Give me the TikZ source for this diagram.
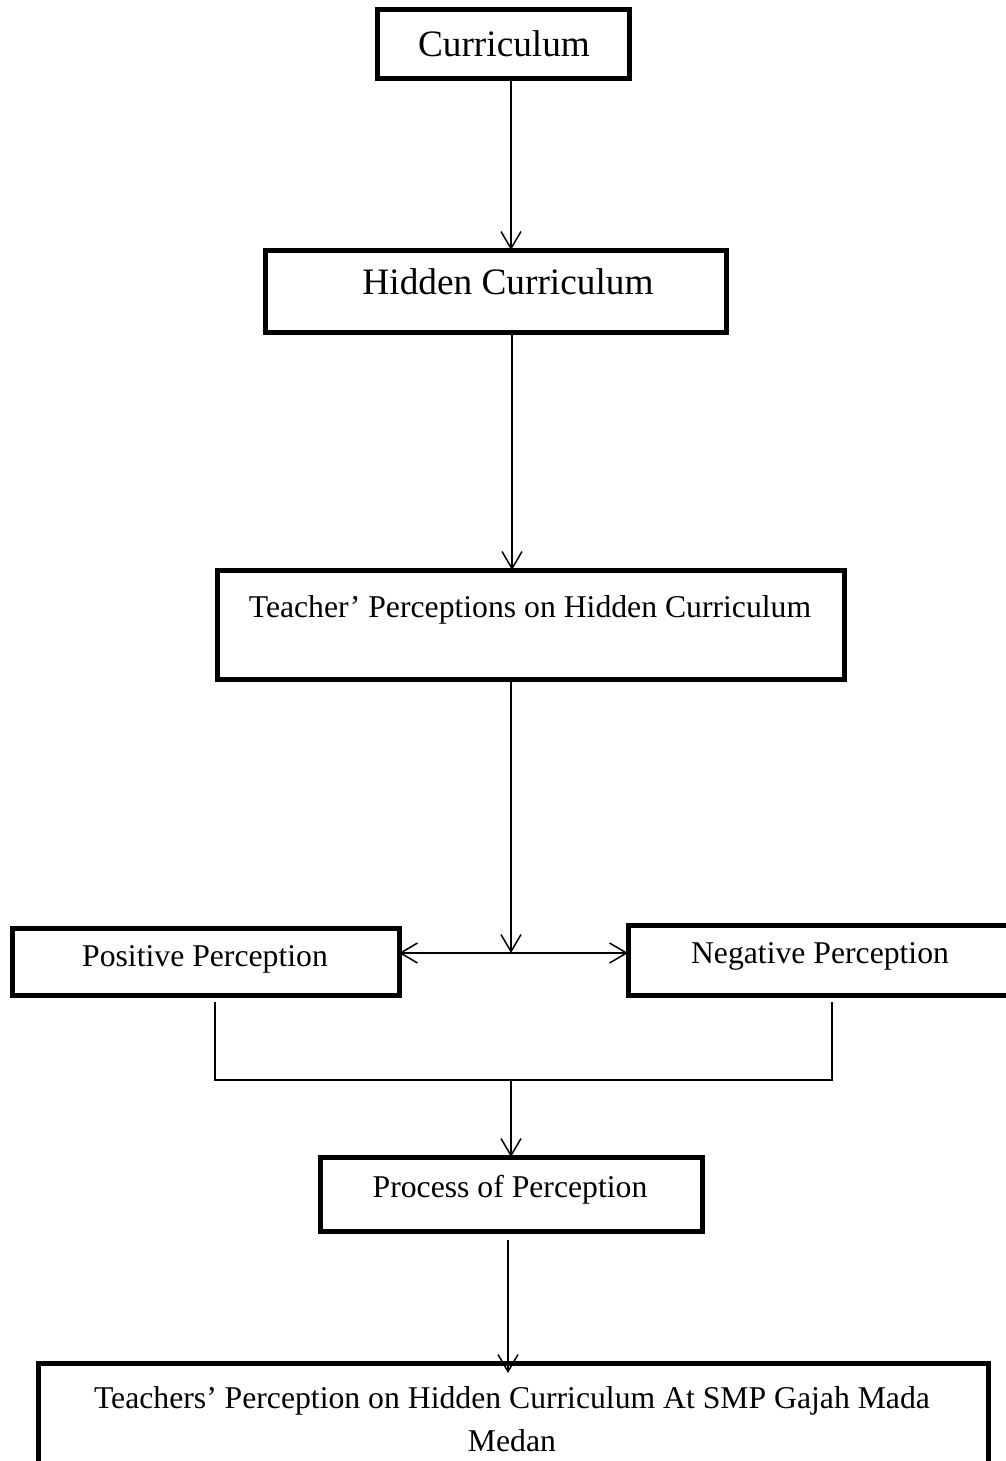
\documentclass[tikz,border=0pt]{standalone}
\usepackage{fontspec}
\setmainfont{Liberation Serif}
\usetikzlibrary{arrows.meta}
\begin{document}
\begin{tikzpicture}[x=1pt,y=-1pt,
  box/.style={draw, line width=5pt, inner sep=0pt, outer sep=0pt, anchor=north west},
  bigtxt/.style={inner sep=0pt, font=\fontsize{37.3}{44}\selectfont},
  smalltxt/.style={inner sep=0pt, font=\fontsize{31.7}{43}\selectfont, align=center},
  arr/.style={line width=1.5pt, -{Straight Barb[length=17pt,width=20pt]}},
  conn/.style={line width=1.5pt}
]
\useasboundingbox (0,0) rectangle (1006,1461);
\clip (0,0) rectangle (1006,1461);
% boxes
\node[box, minimum width=252pt, minimum height=69pt] (cur) at (377,10) {};
\node[box, minimum width=461pt, minimum height=82pt] (hid) at (265,250) {};
\node[box, minimum width=627pt, minimum height=109pt] (tea) at (217,570) {};
\node[box, minimum width=387pt, minimum height=67pt] (pos) at (12,928) {};
\node[box, minimum width=385pt, minimum height=70pt] (neg) at (628,925) {};
\node[box, minimum width=382pt, minimum height=74pt] (pro) at (320,1157) {};
\node[box, minimum width=950pt, minimum height=110pt] (fin) at (38,1363) {};
% texts
\node[bigtxt] (tcur) at (504,44) {Curriculum};
\node[bigtxt] (thid) at (508,282) {Hidden Curriculum};
\node[smalltxt] (ttea) at (530,610) {Teacher’ Perceptions on Hidden Curriculum};
\node[smalltxt] (tpos) at (205,959) {Positive Perception};
\node[smalltxt] (tneg) at (820,956) {Negative Perception};
\node[smalltxt] (tpro) at (510,1190) {Process of Perception};
\node[smalltxt] (tfin) at (512,1419) {Teachers’ Perception on Hidden Curriculum At SMP Gajah Mada\\Medan};
% helper coordinates
\coordinate (x1) at (511,0);
\coordinate (x2) at (512,0);
\coordinate (x3) at (508,0);
\coordinate (j) at (511,953);
\coordinate (bl) at (215,1002);
\coordinate (blc) at (215,1080);
\coordinate (brc) at (832,1080);
\coordinate (br) at (832,1002);
\coordinate (bm) at (511,1080);
\coordinate (ps) at (508,1240);
\coordinate (fe) at (508,1373);
% connectors
\draw[arr] (x1 |- cur.south) -- (x1 |- hid.north);
\draw[arr] (x2 |- hid.south) -- (x2 |- tea.north);
\draw[arr] (x1 |- tea.south) -- (j);
\draw[line width=1.5pt, {Straight Barb[length=17pt,width=20pt]}-{Straight Barb[length=17pt,width=20pt]}] (pos.east |- j) -- (neg.west |- j);
\draw[conn] (bl) -- (blc) -- (brc) -- (br);
\draw[arr] (bm) -- (bm |- pro.north);
\draw[arr] (ps) -- (fe);
\end{tikzpicture}
\end{document}
